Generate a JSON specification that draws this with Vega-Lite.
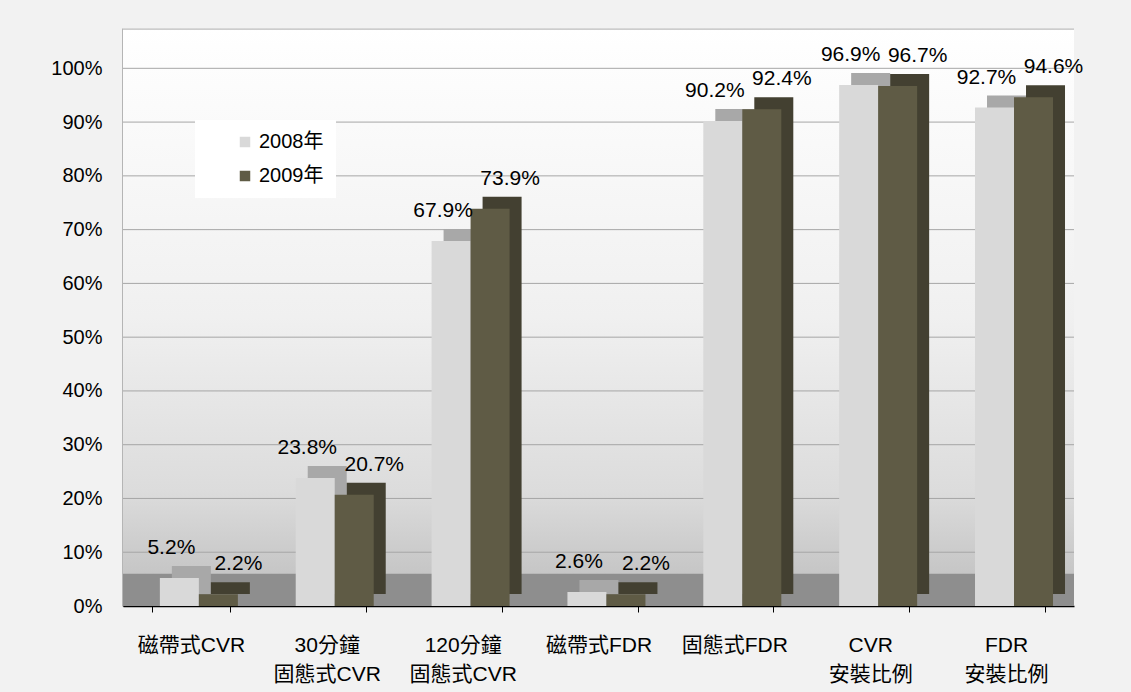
{
  "$schema": "https://vega.github.io/schema/vega-lite/v6.json",
  "width": 951,
  "height": 578,
  "autosize": {"type": "none"},
  "padding": {"left": 123, "top": 28, "right": 57, "bottom": 86},
  "background": "#f2f2f2",
  "config": {
    "font": "Liberation Sans, Noto Sans CJK TC, sans-serif",
    "view": {"stroke": null}
  },
  "resolve": {"scale": {"xOffset": "independent"}},
  "datasets": {
    "rates": [
      {"cat": "磁帶式CVR", "year": "2008年", "value": 0.052},
      {"cat": "磁帶式CVR", "year": "2009年", "value": 0.022},
      {"cat": "30分鐘\n固態式CVR", "year": "2008年", "value": 0.238},
      {"cat": "30分鐘\n固態式CVR", "year": "2009年", "value": 0.207},
      {"cat": "120分鐘\n固態式CVR", "year": "2008年", "value": 0.679},
      {"cat": "120分鐘\n固態式CVR", "year": "2009年", "value": 0.739},
      {"cat": "磁帶式FDR", "year": "2008年", "value": 0.026},
      {"cat": "磁帶式FDR", "year": "2009年", "value": 0.022},
      {"cat": "固態式FDR", "year": "2008年", "value": 0.902},
      {"cat": "固態式FDR", "year": "2009年", "value": 0.924},
      {"cat": "CVR\n安裝比例", "year": "2008年", "value": 0.969},
      {"cat": "CVR\n安裝比例", "year": "2009年", "value": 0.967},
      {"cat": "FDR\n安裝比例", "year": "2008年", "value": 0.927},
      {"cat": "FDR\n安裝比例", "year": "2009年", "value": 0.946}
    ],
    "grid": [
      {"g": 0.1}, {"g": 0.2}, {"g": 0.3}, {"g": 0.4}, {"g": 0.5},
      {"g": 0.6}, {"g": 0.7}, {"g": 0.8}, {"g": 0.9}, {"g": 1.0}, {"g": 1.073}
    ]
  },
  "layer": [
    {
      "data": {"values": [{"lo": 0, "hi": 1.075}]},
      "mark": {
        "type": "rect",
        "color": {
          "gradient": "linear", "x1": 0, "y1": 0, "x2": 0, "y2": 1,
          "stops": [
            {"offset": 0, "color": "#ffffff"},
            {"offset": 0.5, "color": "#f0f0f0"},
            {"offset": 0.8, "color": "#dcdcdc"},
            {"offset": 1, "color": "#bdbdbd"}
          ]
        }
      },
      "encoding": {
        "y": {"field": "lo", "type": "quantitative", "scale": {"domain": [0, 1.075], "nice": false},
          "axis": {
            "values": [0, 0.1, 0.2, 0.3, 0.4, 0.5, 0.6, 0.7, 0.8, 0.9, 1.0],
            "format": ".0%", "title": null, "grid": false, "ticks": false,
            "domain": true, "domainColor": "#000000", "domainWidth": 1.5,
            "labelFontSize": 20, "labelColor": "#000000", "labelPadding": 21
          }
        },
        "y2": {"field": "hi"}
      }
    },
    {
      "data": {"name": "grid"},
      "mark": {"type": "rule", "color": "#a6a6a6", "strokeWidth": 1},
      "encoding": {"y": {"field": "g", "type": "quantitative"}}
    },
    {
      "data": {"values": [{"lo": 0, "hi": 0.06}]},
      "mark": {"type": "rect", "color": "#8e8e8e"},
      "encoding": {
        "y": {"field": "lo", "type": "quantitative"},
        "y2": {"field": "hi"}
      }
    },
    {
      "data": {"name": "rates"},
      "transform": [{"filter": "datum.year === '2008年'"}],
      "mark": {"type": "bar", "color": "#a8a8a8", "yOffset": -12, "y2Offset": -12},
      "encoding": {
        "x": {"field": "cat", "type": "nominal", "sort": null},
        "xOffset": {"field": "year", "type": "nominal", "scale": {"domain": ["2008年", "2009年"], "range": [20, 98]}},
        "y": {"field": "value", "type": "quantitative"}
      }
    },
    {
      "data": {"name": "rates"},
      "transform": [{"filter": "datum.year === '2009年'"}],
      "mark": {"type": "bar", "color": "#434031", "yOffset": -12, "y2Offset": -12},
      "encoding": {
        "x": {"field": "cat", "type": "nominal", "sort": null},
        "xOffset": {"field": "year", "type": "nominal", "scale": {"domain": ["2008年", "2009年"], "range": [20, 98]}},
        "y": {"field": "value", "type": "quantitative"}
      }
    },
    {
      "data": {"name": "rates"},
      "mark": {"type": "bar"},
      "encoding": {
        "x": {
          "field": "cat", "type": "nominal", "sort": null,
          "scale": {"paddingInner": 0.425, "paddingOuter": 0.2125},
          "axis": {
            "title": null, "labelAngle": 0, "labelAlign": "center", "labelFontSize": 21, "labelColor": "#000000",
            "labelExpr": "split(datum.label, '\\n')", "labelLineHeight": 29,
            "labelPadding": 33, "tickBand": "extent", "tickColor": "#000000", "tickSize": 6,
            "domainColor": "#000000", "domainWidth": 1.5, "grid": false
          }
        },
        "xOffset": {"field": "year", "type": "nominal", "scale": {"domain": ["2008年", "2009年"], "range": [8, 86]}},
        "y": {"field": "value", "type": "quantitative"},
        "color": {
          "field": "year", "type": "nominal",
          "scale": {"domain": ["2008年", "2009年"], "range": ["#d9d9d9", "#5f5b45"]},
          "legend": {
            "title": null, "orient": "none", "legendX": 72, "legendY": 92,
            "fillColor": "#ffffff", "padding": 12, "symbolType": "square", "symbolSize": 110,
            "symbolOffset": 28, "symbolStrokeWidth": 0, "labelFontSize": 20, "labelColor": "#000000",
            "rowPadding": 14, "labelLimit": 300
          }
        }
      }
    },
    {
      "data": {"name": "rates"},
      "transform": [{"filter": "datum.year === '2008年'"}],
      "mark": {"type": "text", "fontSize": 21, "baseline": "bottom", "dy": -20, "dx": -8, "color": "#000000"},
      "encoding": {
        "x": {"field": "cat", "type": "nominal", "sort": null},
        "xOffset": {"field": "year", "type": "nominal", "scale": {"domain": ["2008年", "2009年"], "range": [8, 86]}},
        "y": {"field": "value", "type": "quantitative"},
        "text": {"field": "value", "type": "quantitative", "format": ".1%"}
      }
    },
    {
      "data": {"name": "rates"},
      "transform": [{"filter": "datum.year === '2009年'"}],
      "mark": {"type": "text", "fontSize": 21, "baseline": "bottom", "dy": -20, "dx": 20, "color": "#000000"},
      "encoding": {
        "x": {"field": "cat", "type": "nominal", "sort": null},
        "xOffset": {"field": "year", "type": "nominal", "scale": {"domain": ["2008年", "2009年"], "range": [8, 86]}},
        "y": {"field": "value", "type": "quantitative"},
        "text": {"field": "value", "type": "quantitative", "format": ".1%"}
      }
    }
  ]
}
